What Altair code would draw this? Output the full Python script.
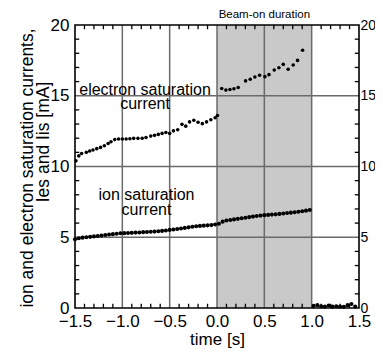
import altair as alt
import pandas as pd

# ---- data ----
elec_t = [-1.49, -1.46, -1.43, -1.38, -1.345, -1.31, -1.27, -1.23, -1.19, -1.15, -1.12, -1.08,
          -1.04, -1.00, -0.96, -0.92, -0.88, -0.835, -0.79, -0.75, -0.70, -0.66, -0.62, -0.58,
          -0.54, -0.50, -0.46, -0.415, -0.37, -0.33, -0.29, -0.245, -0.20, -0.155, -0.11,
          -0.065, -0.02, 0.005,
          0.05, 0.094, 0.137, 0.179, 0.224, 0.302, 0.351, 0.40, 0.45, 0.506, 0.549, 0.605,
          0.654, 0.70, 0.752, 0.805, 0.851, 0.904]
elec_v = [10.40, 10.75, 10.92, 11.0, 11.1, 11.17, 11.26, 11.35, 11.47, 11.63, 11.75, 11.9,
          11.94, 11.94, 11.94, 11.96, 11.99, 11.99, 12.0, 12.05, 12.15, 12.2, 12.27, 12.34,
          12.4, 12.34, 12.52, 12.6, 12.98, 12.85, 13.15, 13.27, 13.13, 13.03, 13.15,
          13.3, 13.45, 13.6,
          15.51, 15.40, 15.44, 15.49, 15.58, 16.05, 16.17, 16.33, 16.45, 16.35, 16.49, 16.82,
          16.98, 17.22, 16.87, 17.17, 17.5, 18.22]

ion_t = [-1.50, -1.46, -1.42, -1.38, -1.34, -1.30, -1.26, -1.22, -1.18, -1.14, -1.10, -1.06,
         -1.02, -0.98, -0.94, -0.90, -0.86, -0.82, -0.78, -0.74, -0.70, -0.66, -0.62, -0.58,
         -0.54, -0.50, -0.46, -0.42, -0.38, -0.34, -0.30, -0.26, -0.22, -0.18, -0.14, -0.10,
         -0.06, -0.02, 0.02, 0.06, 0.10, 0.14, 0.18, 0.22, 0.26, 0.30, 0.34, 0.38, 0.42, 0.46,
         0.50, 0.54, 0.58, 0.62, 0.66, 0.70, 0.74, 0.78, 0.82, 0.86, 0.90, 0.94, 0.98,
         1.02, 1.06, 1.10, 1.14, 1.18, 1.22, 1.26, 1.30, 1.34, 1.38, 1.42, 1.46]
ion_v = [4.85, 4.93, 4.97, 5.00, 5.03, 5.06, 5.09, 5.12, 5.16, 5.19, 5.22, 5.25,
         5.28, 5.29, 5.30, 5.31, 5.33, 5.34, 5.36, 5.37, 5.39, 5.40, 5.42, 5.45,
         5.48, 5.52, 5.55, 5.58, 5.62, 5.66, 5.70, 5.74, 5.78, 5.80, 5.82, 5.84,
         5.86, 5.90, 5.95, 6.10, 6.18, 6.22, 6.26, 6.30, 6.34, 6.38, 6.42, 6.46, 6.50, 6.53,
         6.56, 6.58, 6.60, 6.62, 6.65, 6.68, 6.71, 6.74, 6.77, 6.80, 6.84, 6.88, 6.93,
         0.15, 0.20, 0.12, 0.10, 0.18, 0.10, 0.12, 0.10, 0.08, 0.20, 0.28, 0.10]

beam_start = [0.0]
beam_end = [1.0]

x_ticks = [-1.5, -1.0, -0.5, 0.0, 0.5, 1.0, 1.5]
y_ticks = [0, 5, 10, 15, 20]
x_grid = [-1.0, -0.5, 0.0, 0.5, 1.0]
y_grid = [5, 10, 15]
x_minor = [-1.4, -1.3, -1.2, -1.1, -0.9, -0.8, -0.7, -0.6, -0.4, -0.3, -0.2, -0.1,
           0.1, 0.2, 0.3, 0.4, 0.6, 0.7, 0.8, 0.9, 1.1, 1.2, 1.3, 1.4]
y_minor = [1, 2, 3, 4, 6, 7, 8, 9, 11, 12, 13, 14, 16, 17, 18, 19]

label_t = [-0.76, -0.76, -0.745, -0.745, 0.5]
label_v = [15.05, 14.07, 7.63, 6.57, 20.5]
label_txt = ["electron saturation", "current", "ion saturation", "current", "Beam-on duration"]
label_size = [16, 16, 16, 16, 11.5]

FONT = "Liberation Sans"
W, H = 284, 283
GRID = "#6a6a6a"

xs = alt.Scale(domain=[-1.5, 1.5], nice=False, zero=False)
ys = alt.Scale(domain=[0, 20], nice=False, zero=False)

df_e = pd.DataFrame({"t": elec_t, "v": elec_v})
df_i = pd.DataFrame({"t": ion_t, "v": ion_v})
df_b = pd.DataFrame({"s": beam_start, "e": beam_end})
df_xg = pd.DataFrame({"t": x_grid})
df_yg = pd.DataFrame({"v": y_grid})
df_xm = pd.DataFrame({"t": x_minor})
df_ym = pd.DataFrame({"v": y_minor})
df_lab = pd.DataFrame({"t": label_t, "v": label_v, "txt": label_txt, "fs": label_size})

x_axis = alt.Axis(values=x_ticks, format=".1f", title="time [s]", grid=False, tickSize=0,
                  domain=False, labelFontSize=17, labelFont=FONT, labelColor="black",
                  labelPadding=5, titleFont=FONT, titleFontSize=17, titleFontWeight="normal",
                  titleColor="black", titlePadding=2, labelFlush=False)
y_left = alt.Axis(values=y_ticks, format="d", title=None, grid=False, tickSize=0, domain=False,
                  labelFontSize=17, labelFont=FONT, labelColor="black", labelPadding=6,
                  orient="left")
y_right = alt.Axis(values=y_ticks, format="d", title=None, grid=False, tickSize=0, domain=False,
                   labelFontSize=14, labelFont=FONT, labelColor="black", labelPadding=1,
                   orient="right")

band = alt.Chart(df_b).mark_rect(color="#c9c9c9").encode(
    x=alt.X("s:Q", scale=xs, axis=x_axis), x2="e:Q",
    y=alt.datum(0, scale=ys, axis=None), y2=alt.datum(20))

vgrid = alt.Chart(df_xg).mark_rule(color=GRID, strokeWidth=1.5).encode(
    x=alt.X("t:Q", scale=xs, axis=None))
hgrid = alt.Chart(df_yg).mark_rule(color=GRID, strokeWidth=1.5).encode(
    y=alt.Y("v:Q", scale=ys, axis=None))

elec = alt.Chart(df_e).mark_circle(color="black", opacity=1, size=13).encode(
    x=alt.X("t:Q", scale=xs, axis=None), y=alt.Y("v:Q", scale=ys, axis=y_left))

ion = alt.Chart(df_i).mark_circle(color="black", opacity=1, size=17).encode(
    x=alt.X("t:Q", scale=xs, axis=None), y=alt.Y("v:Q", scale=ys, axis=y_right))

frame = alt.Chart(pd.DataFrame({"a": [0]})).mark_rect(
    fill=None, stroke="black", strokeWidth=1.6).encode(
    x=alt.datum(-1.5, scale=xs, axis=None), x2=alt.datum(1.5),
    y=alt.datum(0, scale=ys, axis=None), y2=alt.datum(20))

top_ticks = alt.Chart(df_xm).mark_rule(color="black", strokeWidth=1.3).encode(
    x=alt.X("t:Q", scale=xs, axis=None), y=alt.datum(20, scale=ys, axis=None), y2=alt.datum(19.7))
bot_ticks = alt.Chart(df_xm).mark_rule(color="black", strokeWidth=1.3).encode(
    x=alt.X("t:Q", scale=xs, axis=None), y=alt.datum(0, scale=ys, axis=None), y2=alt.datum(0.3))
left_ticks = alt.Chart(df_ym).mark_rule(color="black", strokeWidth=1.3).encode(
    y=alt.Y("v:Q", scale=ys, axis=None), x=alt.datum(-1.5, scale=xs, axis=None), x2=alt.datum(-1.455))
right_ticks = alt.Chart(df_ym).mark_rule(color="black", strokeWidth=1.3).encode(
    y=alt.Y("v:Q", scale=ys, axis=None), x=alt.datum(1.455, scale=xs, axis=None), x2=alt.datum(1.5))

labels = alt.Chart(df_lab).mark_text(font=FONT, color="black", align="center",
                                     baseline="alphabetic").encode(
    x=alt.X("t:Q", scale=xs, axis=None), y=alt.Y("v:Q", scale=ys, axis=None), text="txt:N",
    size=alt.Size("fs:Q", scale=None, legend=None))

ytitle1 = alt.Chart(pd.DataFrame({"a": [0]})).mark_text(
    text="ion and electron saturation currents,", font=FONT, fontSize=17.5, angle=270,
    align="center", baseline="middle", color="black").encode(
    x=alt.value(-47.5), y=alt.value(143))
ytitle2 = alt.Chart(pd.DataFrame({"a": [0]})).mark_text(
    text="Ies and Iis  [mA]", font=FONT, fontSize=17.5, angle=270,
    align="center", baseline="middle", color="black").encode(
    x=alt.value(-31.5), y=alt.value(117))

chart = alt.layer(band, vgrid, hgrid, elec, ion, top_ticks, bot_ticks, left_ticks, right_ticks,
                  frame, labels, ytitle1, ytitle2).resolve_axis(
    x="independent", y="independent").properties(
    width=W, height=H,
    background="white",
    autosize=alt.AutoSizeParams(type="none"),
    padding={"left": 67, "top": 17, "right": 16, "bottom": 42},
).configure_view(stroke=None)

chart.save("out.html", embed_options={"renderer": "svg", "actions": False})
